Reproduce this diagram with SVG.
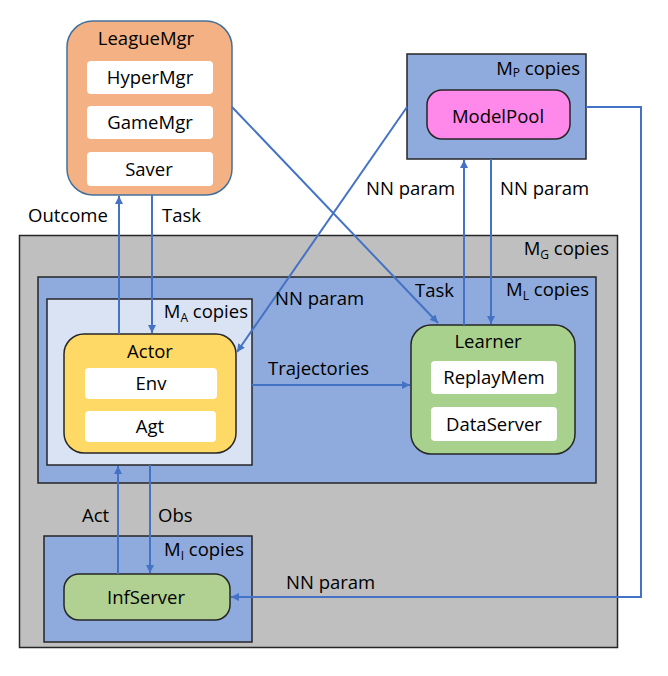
<svg xmlns="http://www.w3.org/2000/svg" width="668" height="676" viewBox="0 0 668 676">
<defs>
<marker id="ah" viewBox="0 0 8 8" refX="8" refY="4" markerWidth="4" markerHeight="4" orient="auto" markerUnits="strokeWidth">
<path d="M0,0 L8,4 L0,8 z" fill="#4472C4"/>
</marker>
</defs>
<style>
text{font-family:"Open Sans","Liberation Sans",sans-serif;font-size:18.5px;fill:#000}
.c{text-anchor:middle}
.e{text-anchor:end}
.sub{font-size:12px}
.box{stroke:#262626;stroke-width:1.5}
.white{fill:#fff}
.conn{fill:none;stroke:#4472C4;stroke-width:2}
.arr{marker-end:url(#ah)}
</style>
<rect width="668" height="676" fill="#fff"/>
<g id="mg-group">
<rect class="box" x="19.5" y="235.5" width="598" height="412" fill="#BFBFBF"/>
<text class="e" x="609" y="255">M<tspan class="sub" dy="4">G</tspan><tspan dy="-4"> copies</tspan></text>
</g>
<g id="ml-group">
<rect class="box" x="38" y="277" width="558" height="206" fill="#8FAADC"/>
<text class="e" x="589" y="296">M<tspan class="sub" dy="4">L</tspan><tspan dy="-4"> copies</tspan></text>
</g>
<g id="ma-group">
<rect class="box" x="47" y="299" width="205" height="166" fill="#DAE3F3"/>
<text class="e" x="248" y="318">M<tspan class="sub" dy="4">A</tspan><tspan dy="-4"> copies</tspan></text>
</g>
<g id="mi-group">
<rect class="box" x="44" y="536" width="208" height="106" fill="#8FAADC"/>
<text class="e" x="244" y="556">M<tspan class="sub" dy="4">I</tspan><tspan dy="-4"> copies</tspan></text>
</g>
<g id="mp-group">
<rect class="box" x="407" y="54" width="179" height="105" fill="#8FAADC"/>
<text class="e" x="580" y="75">M<tspan class="sub" dy="2">P</tspan><tspan dy="-2"> copies</tspan></text>
</g>
<g id="leaguemgr">
<rect x="67" y="21" width="165" height="174" rx="26" fill="#F4B183" stroke="#41719C" stroke-width="1.5"/>
<text class="c" x="146" y="45">LeagueMgr</text>
<rect class="white" x="87" y="61" width="126" height="33" rx="4"/>
<text class="c" x="150" y="84">HyperMgr</text>
<rect class="white" x="87" y="106" width="126" height="33" rx="4"/>
<text class="c" x="150" y="129">GameMgr</text>
<rect class="white" x="87" y="152" width="126" height="34" rx="4"/>
<text class="c" x="149" y="176">Saver</text>
</g>
<g id="modelpool">
<rect class="box" x="427" y="90" width="143" height="49" rx="15" fill="#FF88EB"/>
<text class="c" x="498" y="123">ModelPool</text>
</g>
<g id="actor">
<rect class="box" x="64" y="334" width="172" height="119" rx="20" fill="#FFD966"/>
<text class="c" x="150" y="358">Actor</text>
<rect class="white" x="85" y="368" width="132" height="31" rx="4"/>
<text class="c" x="151" y="390">Env</text>
<rect class="white" x="85" y="411" width="131" height="31" rx="4"/>
<text class="c" x="150" y="433">Agt</text>
</g>
<g id="learner">
<rect class="box" x="411" y="325" width="164" height="129" rx="20" fill="#A9D18E"/>
<text class="c" x="488" y="348">Learner</text>
<rect class="white" x="431" y="361" width="126" height="33" rx="4"/>
<text class="c" x="494" y="384">ReplayMem</text>
<rect class="white" x="431" y="407" width="126" height="34" rx="4"/>
<text class="c" x="494" y="431">DataServer</text>
</g>
<g id="infserver">
<rect class="box" x="64" y="574" width="166" height="46" rx="15" fill="#B0D191"/>
<text class="c" x="146" y="604">InfServer</text>
</g>
<g id="connectors">
<line class="conn arr" x1="119" y1="334" x2="119" y2="196"/>
<line class="conn arr" x1="152" y1="195" x2="152" y2="333"/>
<line class="conn arr" x1="232" y1="107" x2="438" y2="323"/>
<line class="conn arr" x1="407" y1="107" x2="237" y2="352"/>
<line class="conn arr" x1="464" y1="325" x2="464" y2="160"/>
<line class="conn arr" x1="491" y1="159" x2="491" y2="324"/>
<line class="conn arr" x1="252" y1="385" x2="410" y2="385"/>
<line class="conn arr" x1="118" y1="574" x2="118" y2="466"/>
<line class="conn arr" x1="150" y1="465" x2="150" y2="573"/>
<polyline class="conn arr" points="586,107 641,107 641,597 231,597"/>
</g>
<g id="labels">
<text x="28" y="222">Outcome</text>
<text x="162" y="222">Task</text>
<text x="366" y="195">NN param</text>
<text x="500" y="195">NN param</text>
<text x="275" y="305">NN param</text>
<text x="415" y="297">Task</text>
<text x="268" y="375">Trajectories</text>
<text x="82" y="522">Act</text>
<text x="158" y="522">Obs</text>
<text x="286" y="589">NN param</text>
</g>
</svg>
